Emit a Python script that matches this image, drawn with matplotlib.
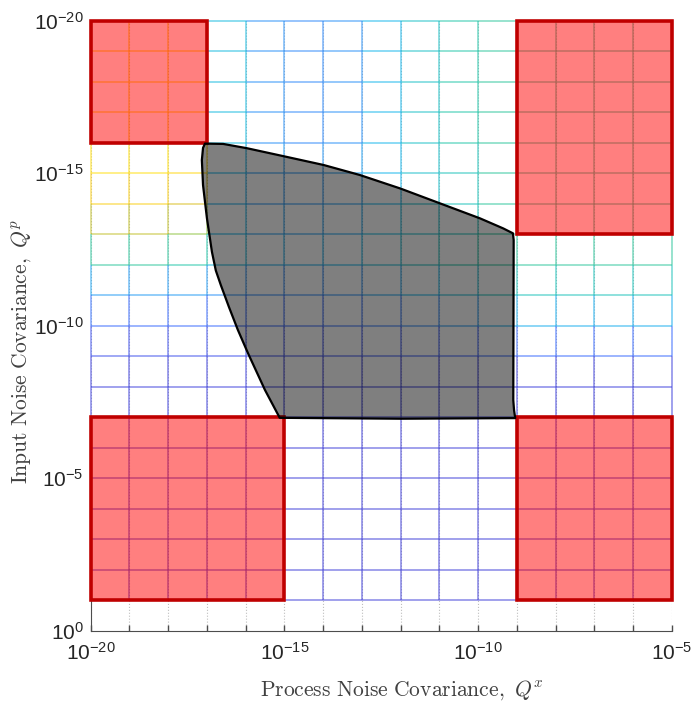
import numpy as np
import matplotlib.pyplot as plt
from matplotlib.collections import LineCollection
from matplotlib.colors import LinearSegmentedColormap
from matplotlib.patches import Rectangle, Polygon
from matplotlib.ticker import NullFormatter, NullLocator

plt.rcParams['font.family'] = 'Liberation Sans'
plt.rcParams['mathtext.fontset'] = 'custom'
plt.rcParams['mathtext.rm'] = 'Liberation Sans'
plt.rcParams['mathtext.it'] = 'Liberation Sans:italic'

# mesh nodes (decade exponents)
qx_exp = [-20, -19, -18, -17, -16, -15, -14, -13, -12, -11, -10, -9, -8, -7, -6, -5]
qp_exp = [-20, -19, -18, -17, -16, -15, -14, -13, -12, -11, -10,
          -9, -8, -7, -6, -5, -4, -3, -2, -1]

# colour level of the mesh at each node, rows follow qp_exp, columns follow qx_exp
mesh_level = [
    [.90, .90, .90, .90, .42, .32, .30, .32, .40, .46, .50, .52, .52, .52, .52, .52],
    [.90, .90, .90, .90, .42, .32, .30, .32, .40, .46, .50, .52, .52, .52, .52, .52],
    [.90, .90, .90, .90, .42, .32, .30, .32, .40, .46, .50, .52, .52, .52, .52, .52],
    [.90, .90, .90, .90, .42, .32, .30, .32, .40, .46, .50, .52, .52, .52, .52, .52],
    [.90, .90, .90, .90, .42, .32, .30, .32, .40, .46, .50, .52, .52, .52, .52, .52],
    [.93, .93, .93, .90, .40, .34, .33, .35, .40, .45, .48, .52, .52, .52, .52, .52],
    [.86, .86, .86, .75, .38, .33, .33, .35, .40, .45, .48, .52, .52, .52, .52, .52],
    [.72, .72, .72, .66, .40, .35, .35, .37, .42, .45, .48, .52, .52, .52, .52, .52],
    [.52, .52, .52, .50, .42, .38, .38, .40, .44, .47, .50, .52, .52, .52, .52, .52],
    [.36, .34, .34, .34, .32, .30, .30, .32, .36, .40, .44, .48, .48, .48, .48, .48],
    [.24, .22, .22, .22, .22, .22, .22, .24, .26, .30, .34, .38, .38, .38, .38, .38],
    [.14, .13, .13, .13, .13, .13, .14, .15, .16, .18, .20, .22, .22, .22, .22, .22],
    [.08, .08, .08, .08, .08, .08, .08, .08, .08, .08, .08, .08, .08, .08, .08, .08],
    [.08, .08, .08, .08, .08, .08, .08, .08, .08, .08, .08, .08, .08, .08, .08, .08],
    [.07, .07, .07, .07, .07, .07, .07, .07, .07, .07, .07, .07, .07, .07, .07, .07],
    [.07, .07, .07, .07, .07, .07, .07, .07, .07, .07, .07, .07, .07, .07, .07, .07],
    [.07, .07, .07, .07, .07, .07, .07, .07, .07, .07, .07, .07, .07, .07, .07, .07],
    [.07, .07, .07, .07, .07, .07, .07, .07, .07, .07, .07, .07, .07, .07, .07, .07],
    [.07, .07, .07, .07, .07, .07, .07, .07, .07, .07, .07, .07, .07, .07, .07, .07],
    [.07, .07, .07, .07, .07, .07, .07, .07, .07, .07, .07, .07, .07, .07, .07, .07],
]

# infeasible regions (exponents): x0, x1, y0, y1
rect_x0 = [-20, -9, -20, -9]
rect_x1 = [-17, -5, -15, -5]
rect_y0 = [-20, -20, -7, -7]
rect_y1 = [-16, -13, -1, -1]

# feasible region boundary (exponents)
region_x = [-17.05, -16.58, -15.97, -15.03, -13.99, -13.05, -12.01, -10.98, -9.95, -9.35,
            -9.10, -9.08, -9.09, -9.07, -9.04, -12.0, -15.12, -15.50, -15.94, -16.20,
            -16.43, -16.64, -16.77, -16.87, -17.00, -17.10, -17.13, -17.10]
region_y = [-15.97, -15.96, -15.82, -15.56, -15.27, -14.94, -14.50, -14.01, -13.52, -13.19,
            -13.03, -12.81, -7.56, -7.23, -6.97, -6.95, -6.98, -7.89, -9.10, -9.86,
            -10.61, -11.33, -11.81, -12.42, -13.53, -14.61, -15.43, -15.83]

x_ticks = [1e-20, 1e-15, 1e-10, 1e-5]
x_tick_labels = [r'$10^{-20}$', r'$10^{-15}$', r'$10^{-10}$', r'$10^{-5}$']
y_ticks = [1e-20, 1e-15, 1e-10, 1e-5, 1e0]
y_tick_labels = [r'$10^{-20}$', r'$10^{-15}$', r'$10^{-10}$', r'$10^{-5}$', r'$10^{0}$']

cmap = LinearSegmentedColormap.from_list('par', [
    (0.0, (0.28, 0.20, 0.78)), (0.2, (0.25, 0.40, 1.0)), (0.3, (0.20, 0.55, 0.98)),
    (0.4, (0.10, 0.72, 0.92)), (0.5, (0.15, 0.78, 0.68)), (0.65, (0.55, 0.78, 0.30)),
    (0.75, (0.85, 0.75, 0.15)), (0.88, (1.0, 0.82, 0.10)), (1.0, (1.0, 0.95, 0.05))])

fig = plt.figure(figsize=(6.93, 7.05), dpi=100)
ax = fig.add_axes([90.7 / 693, 1 - 630.7 / 705, 581 / 693, 610 / 705])
ax.set_xscale('log')
ax.set_yscale('log')

xs = 10.0 ** np.array(qx_exp)
ys = 10.0 ** np.array(qp_exp)
lev = np.array(mesh_level)

segs, cols = [], []
for i in range(len(ys)):
    for j in range(len(xs) - 1):
        segs.append([(xs[j], ys[i]), (xs[j + 1], ys[i])])
        cols.append(lev[i, j + 1])
for j in range(len(xs)):
    for i in range(len(ys) - 1):
        segs.append([(xs[j], ys[i]), (xs[j], ys[i + 1])])
        cols.append(lev[i + 1, j])
rgba = cmap(np.array(cols))
rgba[:, 3] = 0.55
ax.add_collection(LineCollection(segs, colors=rgba, linewidths=1.3, zorder=2, clip_on=False))

for x0, x1, y0, y1 in zip(rect_x0, rect_x1, rect_y0, rect_y1):
    ax.add_patch(Rectangle((10.0 ** x0, 10.0 ** y0), 10.0 ** x1 - 10.0 ** x0,
                           10.0 ** y1 - 10.0 ** y0, facecolor=(1, 0, 0, 0.5),
                           edgecolor=(0.75, 0, 0), linewidth=2.6, zorder=3, clip_on=False))

pts = np.column_stack([10.0 ** np.array(region_x), 10.0 ** np.array(region_y)])
ax.add_patch(Polygon(pts, closed=True, facecolor=(0, 0, 0, 0.5), edgecolor='k',
                     linewidth=1.6, joinstyle='round', zorder=4))

ax.set_xlim(1e-20, 1e-5)
ax.set_ylim(1e0, 1e-20)

ax.set_xticks(10.0 ** np.arange(-20, -4), minor=True)
ax.set_xticks(x_ticks, x_tick_labels)
ax.xaxis.set_minor_formatter(NullFormatter())
ax.set_yticks(y_ticks, y_tick_labels)
ax.yaxis.set_minor_locator(NullLocator())
ax.tick_params(axis='x', which='both', direction='in', length=4, width=1, color='0.3',
               labelsize=15, pad=8, labelcolor='0.15')
ax.tick_params(axis='y', which='both', length=0, labelsize=15, pad=5, labelcolor='0.15')
ax.grid(axis='x', which='both', linestyle=':', color='0.75', linewidth=0.8, zorder=0)
ax.set_axisbelow(True)

for s in ['top', 'right']:
    ax.spines[s].set_visible(False)
ax.spines['bottom'].set_color('0.3')
ax.spines['left'].set_color('0.3')
ax.spines['left'].set_bounds(1e-1, 1e0)

xl = ax.text(0.536, -0.097, r'$\mathrm{Process\ Noise\ Covariance,}\ Q^x$', transform=ax.transAxes,
             ha='center', va='center', fontsize=15.5, color='0.25')
yl = ax.text(-0.12, 0.4585, r'$\mathrm{Input\ Noise\ Covariance,}\ Q^p$', transform=ax.transAxes,
             ha='center', va='center', rotation=90, fontsize=15.5, color='0.25')
xl.set_math_fontfamily('cm')
yl.set_math_fontfamily('cm')

fig.savefig('out.png', dpi=100)
